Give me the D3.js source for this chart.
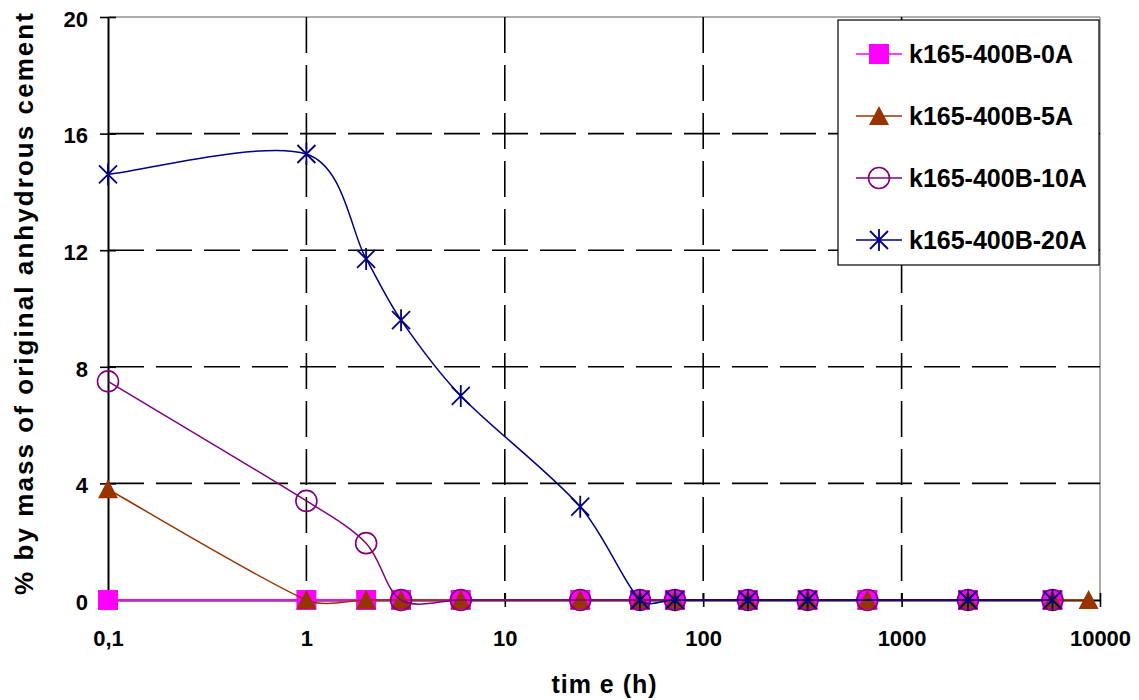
<!DOCTYPE html>
<html>
<head>
<meta charset="utf-8">
<script src="https://cdn.jsdelivr.net/npm/d3@7/dist/d3.min.js"></script>
<style>
  html, body { margin: 0; padding: 0; background: #fff; }
  svg { display: block; }
  text { font-family: "Liberation Sans", Arial, sans-serif; font-weight: bold; fill: #000; }
</style>
</head>
<body>
<svg id="chart" width="1139" height="700"></svg>
<script>
// ---- data ----
const seriesNames = ["k165-400B-0A", "k165-400B-5A", "k165-400B-10A", "k165-400B-20A"];
const times0A  = [0.1, 1, 2, 3, 6, 24, 48, 72, 168, 336, 672, 2160, 5760];
const values0A = [0, 0, 0, 0, 0, 0, 0, 0, 0, 0, 0, 0, 0];
const times5A  = [0.1, 1, 2, 3, 6, 24, 48, 72, 168, 336, 672, 2160, 5760, 8760];
const values5A = [3.8, 0, 0, 0, 0, 0, 0, 0, 0, 0, 0, 0, 0, 0];
const times10A  = [0.1, 1, 2, 3, 6, 24, 48, 72, 168, 336, 672, 2160, 5760];
const values10A = [7.5, 3.4, 1.95, 0, 0, 0, 0, 0, 0, 0, 0, 0, 0];
const times20A  = [0.1, 1, 2, 3, 6, 24, 48, 72, 168, 336, 2160, 5760];
const values20A = [14.6, 15.3, 11.7, 9.6, 7.0, 3.2, 0, 0, 0, 0, 0, 0];
const xTickValues = [0.1, 1, 10, 100, 1000, 10000];
const xTickLabels = ["0,1", "1", "10", "100", "1000", "10000"];
const yTickValues = [0, 4, 8, 12, 16, 20];
const yTickLabels = ["0", "4", "8", "12", "16", "20"];
const xTitle = "tim e (h)";
const yTitle = "% by mass of original anhydrous cement";

// ---- styles ----
const colors = ["#FF00FF", "#993300", "#800080", "#000080"];
const markerTypes = ["square", "triangle", "circle", "star"];
const seriesTimes = [times0A, times5A, times10A, times20A];
const seriesValues = [values0A, values5A, values10A, values20A];

const L = 108, R = 1100, T = 17, B = 600;
const x = d3.scaleLog().domain([0.1, 10000]).range([L, R]);
const y = d3.scaleLinear().domain([0, 20]).range([B, T]);

const svg = d3.select("#chart");

// plot border (gray top & right)
svg.append("line").attr("x1", L).attr("x2", R).attr("y1", T).attr("y2", T)
  .attr("stroke", "#909090").attr("stroke-width", 1.5);
svg.append("line").attr("x1", R).attr("x2", R).attr("y1", T).attr("y2", B)
  .attr("stroke", "#909090").attr("stroke-width", 1.5);

// gridlines
svg.append("g").selectAll("line").data(yTickValues.filter(v => v > 0 && v < 20)).join("line")
  .attr("x1", L).attr("x2", R).attr("y1", d => y(d)).attr("y2", d => y(d))
  .attr("stroke", "#000").attr("stroke-width", 1.6).attr("stroke-dasharray", "36,12");
svg.append("g").selectAll("line").data(xTickValues.filter(v => v > 0.1 && v < 10000)).join("line")
  .attr("x1", d => x(d)).attr("x2", d => x(d)).attr("y1", T).attr("y2", B)
  .attr("stroke", "#000").attr("stroke-width", 1.6).attr("stroke-dasharray", "36,12");

// axes
const yAxis = d3.axisLeft(y).tickValues(yTickValues)
  .tickFormat((d, i) => yTickLabels[i]).tickSizeInner(8).tickSizeOuter(0).tickPadding(12);
const gy = svg.append("g").attr("transform", `translate(${L},0)`).call(yAxis);
gy.select(".domain").attr("stroke", "#000").attr("stroke-width", 2);
gy.selectAll(".tick line").attr("x1", 8).attr("stroke", "#000").attr("stroke-width", 1.6);
gy.selectAll(".tick text").attr("font-size", 22).attr("dy", "0.42em")
  .attr("font-family", "Liberation Sans, Arial, sans-serif").attr("font-weight", "bold").attr("fill", "#000");

const xAxis = d3.axisBottom(x).tickValues(xTickValues)
  .tickFormat((d, i) => xTickLabels[i]).tickSizeInner(7).tickSizeOuter(0);
const gx = svg.append("g").attr("transform", `translate(0,${B})`).call(xAxis);
gx.select(".domain").attr("stroke", "#000").attr("stroke-width", 2);
gx.selectAll(".tick line").attr("y1", -7).attr("stroke", "#000").attr("stroke-width", 1.6);
gx.selectAll(".tick text").attr("font-size", 22).attr("y", 46).attr("dy", 0)
  .attr("font-family", "Liberation Sans, Arial, sans-serif").attr("font-weight", "bold").attr("fill", "#000");

// axis titles
svg.append("text").attr("x", 604).attr("y", 693).attr("text-anchor", "middle")
  .attr("font-size", 25).attr("textLength", 105).attr("lengthAdjust", "spacing").text(xTitle);
svg.append("text").attr("transform", "translate(33,304) rotate(-90)").attr("text-anchor", "middle")
  .attr("font-size", 26).attr("textLength", 582).attr("lengthAdjust", "spacing").text(yTitle);

// marker drawing
function drawMarker(g, type, color) {
  if (type === "square") {
    g.append("rect").attr("x", -10).attr("y", -10).attr("width", 20).attr("height", 20)
      .attr("fill", color);
  } else if (type === "triangle") {
    g.append("path").attr("d", "M0,-10L10,9L-10,9Z").attr("fill", color);
  } else if (type === "circle") {
    g.append("circle").attr("r", 10.5).attr("fill", "none").attr("stroke", color).attr("stroke-width", 1.6);
  } else if (type === "star") {
    g.append("path").attr("d", "M-9,-9L9,9M-9,9L9,-9M0,-11L0,11")
      .attr("fill", "none").attr("stroke", color).attr("stroke-width", 1.8);
  }
}

// Spreadsheet-style smoothed curve: Catmull-Rom tangents with control arms
// limited to a third of the adjacent segment length.
function SmoothCurve(context) { this._context = context; }
SmoothCurve.prototype = {
  areaStart() {}, areaEnd() {},
  lineStart() { this._pts = []; },
  point(px, py) { this._pts.push([+px, +py]); },
  lineEnd() {
    const p = this._pts, n = p.length, c = this._context;
    if (!n) return;
    c.moveTo(p[0][0], p[0][1]);
    if (n === 1) return;
    const dist = (a, b) => Math.hypot(b[0] - a[0], b[1] - a[1]);
    const tan = i => {
      const a = p[Math.max(0, i - 1)], b = p[Math.min(n - 1, i + 1)];
      return [(b[0] - a[0]) / 6, (b[1] - a[1]) / 6];
    };
    const limit = (t, maxLen) => {
      const l = Math.hypot(t[0], t[1]);
      if (l <= maxLen || l === 0) return t;
      return [t[0] * maxLen / l, t[1] * maxLen / l];
    };
    for (let i = 0; i < n - 1; i++) {
      const d = dist(p[i], p[i + 1]) / 3;
      const t1 = limit(tan(i), d), t2 = limit(tan(i + 1), d);
      c.bezierCurveTo(p[i][0] + t1[0], p[i][1] + t1[1],
                      p[i + 1][0] - t2[0], p[i + 1][1] - t2[1],
                      p[i + 1][0], p[i + 1][1]);
    }
  }
};
const smoothCurve = context => new SmoothCurve(context);

const line = d3.line().x(d => x(d[0])).y(d => y(d[1])).curve(smoothCurve);

seriesNames.forEach((name, si) => {
  const pts = seriesTimes[si].map((t, i) => [t, seriesValues[si][i]]);
  const g = svg.append("g");
  g.append("path").datum(pts).attr("d", line).attr("fill", "none")
    .attr("stroke", colors[si]).attr("stroke-width", si === 0 ? 2 : 1.5);
  pts.forEach(p => {
    const mg = g.append("g").attr("transform", `translate(${x(p[0])},${y(p[1])})`);
    drawMarker(mg, markerTypes[si], colors[si]);
  });
});

// legend
const lg = svg.append("g");
lg.append("rect").attr("x", 838).attr("y", 20).attr("width", 261).attr("height", 245)
  .attr("fill", "#fff").attr("stroke", "#000").attr("stroke-width", 1.2);
const rowY = [54, 116, 178, 240];
seriesNames.forEach((name, si) => {
  const ry = rowY[si];
  lg.append("line").attr("x1", 856).attr("x2", 902).attr("y1", ry).attr("y2", ry)
    .attr("stroke", colors[si]).attr("stroke-width", 1.5);
  const mg = lg.append("g").attr("transform", `translate(879,${ry})`);
  drawMarker(mg, markerTypes[si], colors[si]);
  lg.append("text").attr("x", 909).attr("y", ry + 9).attr("font-size", 25).text(name);
});
</script>
</body>
</html>
